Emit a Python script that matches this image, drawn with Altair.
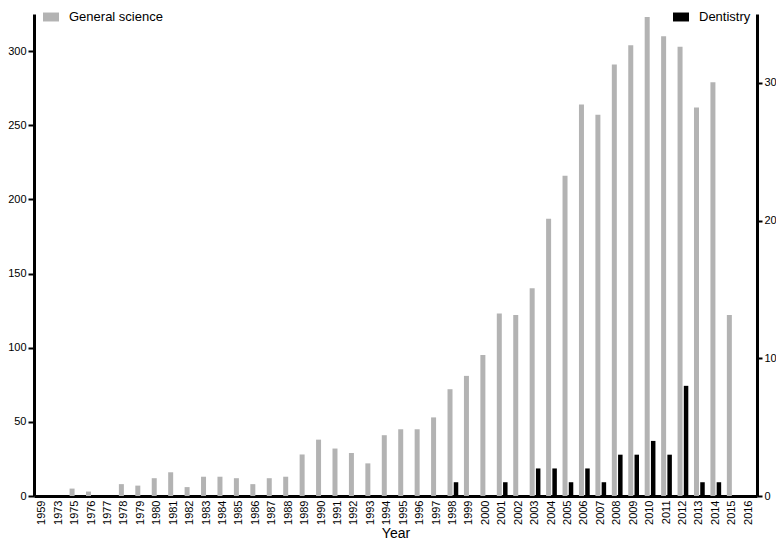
import altair as alt
import pandas as pd

years = ["1959", "1973"] + [str(y) for y in range(1975, 2017)]
general_science = [0, 0, 5, 3, 0, 8, 7, 12, 16, 6, 13, 13, 12, 8, 12, 13, 28, 38, 32, 29,
                   22, 41, 45, 45, 53, 72, 81, 95, 123, 122, 140, 187, 216, 264, 257, 291,
                   304, 323, 310, 303, 262, 279, 122, 0]
dentistry = [0, 0, 0, 0, 0, 0, 0, 0, 0, 0, 0, 0, 0, 0, 0, 0, 0, 0, 0, 0,
             0, 0, 0, 0, 0, 1, 0, 0, 1, 0, 2, 2, 1, 2, 1, 3,
             3, 4, 3, 8, 1, 1, 0, 0]
left_ticks = [0, 50, 100, 150, 200, 250, 300]
right_ticks = [0, 10, 20, 30]

df = pd.DataFrame({"Year": years, "gs": general_science, "dent": dentistry})

FONT = "Liberation Sans"
rect_path = "M-1,-0.56L1,-0.56L1,0.56L-1,0.56Z"

xenc = alt.X(
    "Year:N",
    sort=years,
    scale=alt.Scale(paddingInner=0, paddingOuter=0),
    axis=alt.Axis(
        title="Year",
        labelAngle=-90,
        labelAlign="right",
        labelBaseline="middle",
        labelFontSize=11,
        labelPadding=4,
        ticks=False,
        domainWidth=3,
        domainColor="black",
        labelColor="black",
        titleFontSize=14,
        titleFontWeight="normal",
        titlePadding=2,
        titleColor="black",
        labelFont=FONT,
        titleFont=FONT,
    ),
)

gray = (
    alt.Chart(df)
    .transform_calculate(series="'General science'")
    .mark_bar(width=5, xOffset=-3)
    .encode(
        x=xenc,
        y=alt.Y(
            "gs:Q",
            scale=alt.Scale(domain=[0, 325], nice=False),
            axis=alt.Axis(
                orient="left",
                values=left_ticks,
                title=None,
                grid=False,
                domainWidth=3,
                domainColor="black",
                tickWidth=2,
                tickSize=6,
                tickColor="black",
                labelFontSize=11,
                labelPadding=2,
                labelColor="black",
                labelFont=FONT,
            ),
        ),
        color=alt.Color(
            "series:N",
            scale=alt.Scale(range=["#b3b3b3"]),
            legend=alt.Legend(
                title=None,
                orient="none",
                legendX=9,
                legendY=-5,
                symbolType=rect_path,
                symbolSize=256,
                symbolStrokeWidth=0,
                labelFontSize=13,
                labelFont=FONT,
                labelColor="black",
                labelOffset=10,
                padding=0,
            ),
        ),
    )
)

black = (
    alt.Chart(df)
    .transform_calculate(series="'Dentistry'")
    .mark_bar(width=4.5, xOffset=3)
    .encode(
        x=xenc,
        y=alt.Y(
            "dent:Q",
            scale=alt.Scale(domain=[0, 35], nice=False),
            axis=alt.Axis(
                orient="right",
                values=right_ticks,
                title=None,
                grid=False,
                domainWidth=3,
                domainColor="black",
                tickWidth=2,
                tickSize=5,
                tickColor="black",
                labelFontSize=11,
                labelPadding=2,
                labelColor="black",
                labelFont=FONT,
            ),
        ),
        color=alt.Color(
            "series:N",
            scale=alt.Scale(range=["#000000"]),
            legend=alt.Legend(
                title=None,
                orient="none",
                legendX=639,
                legendY=-5,
                symbolType=rect_path,
                symbolSize=256,
                symbolStrokeWidth=0,
                labelFontSize=13,
                labelFont=FONT,
                labelColor="black",
                labelOffset=10,
                padding=0,
            ),
        ),
    )
)

chart = (
    alt.layer(gray, black)
    .resolve_scale(y="independent", color="independent")
    .properties(
        width=723,
        height=482,
        autosize=alt.AutoSizeParams(type="none"),
        padding={"left": 26, "top": 6, "right": 19, "bottom": 44},
    )
    .configure_view(stroke=None)
)

chart.save("out.html", embed_options={"renderer": "svg", "actions": False})
